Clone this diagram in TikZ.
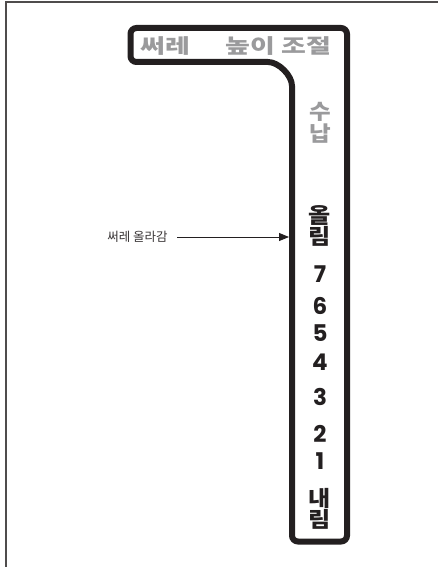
\documentclass[tikz,border=0pt]{standalone}
\usepackage{fontspec}
\setmainfont{Noto Sans CJK KR}
\newfontfamily\widefont{Noto Sans CJK KR}[FakeStretch=1.35]
\newfontfamily\tallfont{Noto Sans CJK KR}[FakeStretch=1.12]
\newfontfamily\digitfont{Poppins}
\usetikzlibrary{arrows.meta}
\definecolor{ink}{HTML}{231F20}
\definecolor{faint}{HTML}{9A9A9C}
\begin{document}
\begin{tikzpicture}[
        x=1pt, y=-1pt,
        bar/.style={text=faint, inner sep=0pt, font=\widefont\fontsize{20}{20}\selectfont\bfseries},
        grey/.style={text=faint, align=center, inner sep=0pt, font=\tallfont\fontsize{21}{21.5}\selectfont\bfseries},
        stage/.style={text=ink, align=center, inner sep=0pt, font=\tallfont\fontsize{21.5}{21}\selectfont\bfseries},
        digit/.style={text=ink, inner sep=0pt, font=\digitfont\fontsize{23}{23}\selectfont\bfseries},
        note/.style={text=ink!90, font=\fontsize{12.5}{13}\selectfont}
    ]
    \useasboundingbox (0,0) rectangle (438,567);
    % The Frame
    \draw[ink!80, line width=1.2pt] (6,567) -- (6,2) -- (438,2);

    % The Dial
    \draw[ink, line width=6pt, rounded corners=6pt] (130.5,28) -- (347,28) -- (347,541.5) -- (292,541.5) -- (292,92) .. controls (292,75.4) and (278.6,62) .. (262,62) -- (130.5,62) -- cycle;

    % Top Bar
    \node[bar] (harrow) at (165.5,46) {써레}; \node[bar] (height) at (278.5,46) {높이 조절};

    % Scale
    \node[grey] (stow) at (320,123) {수\\납}; \node[stage] (raise) at (320,226) {올\\림};
    \node[digit] (s7) at (320,274.5) {7}; \node[digit] (s6) at (320,305.5) {6}; \node[digit] (s5) at (320,333.5) {5};
    \node[digit] (s4) at (320,362) {4}; \node[digit] (s3) at (320,397) {3}; \node[digit] (s2) at (320,434) {2};
    \node[digit] (s1) at (320,461.5) {1}; \node[stage] (lower) at (320,509) {내\\림};

    % Pointer
    \node[note] (lifted) at (137.5,237) {써레 올라감};
    \coordinate (edge) at (289,237);
    \draw[ink, line width=1pt, -{Triangle[length=10pt,width=8pt]}, shorten <=6pt] (lifted) -- (edge);

\end{tikzpicture}
\end{document}
